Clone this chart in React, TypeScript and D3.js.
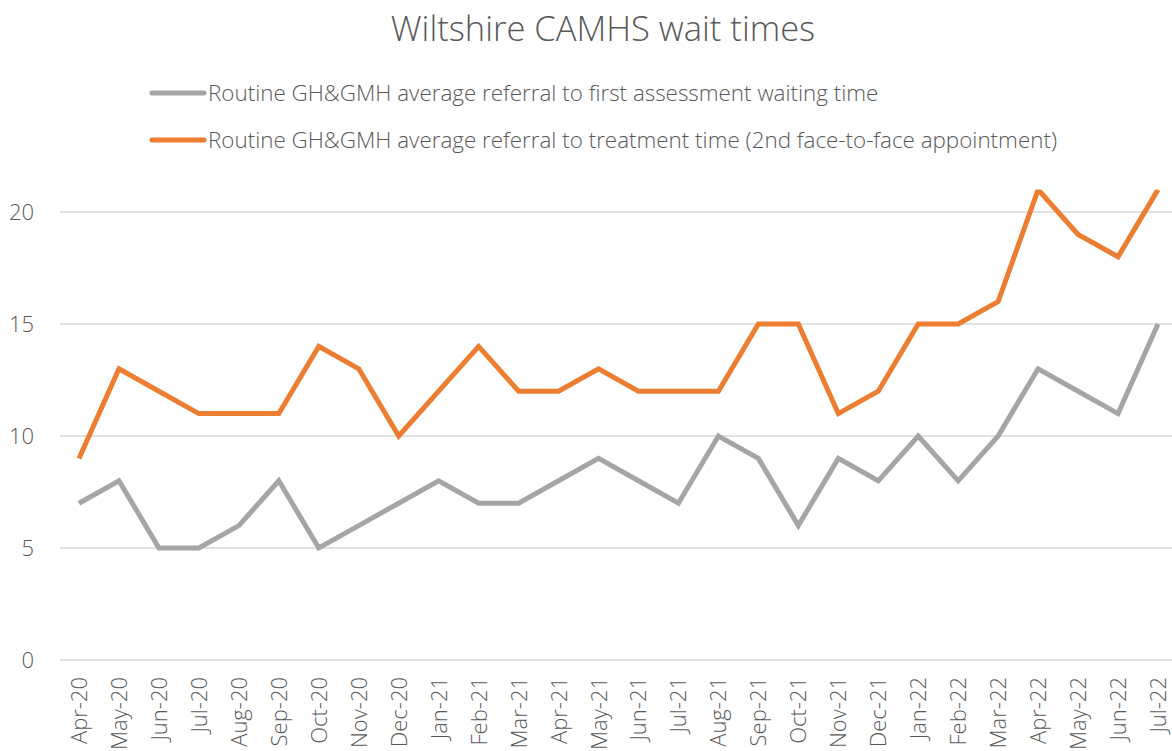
import React from "react";
import * as d3 from "d3";

const months = ["Apr-20","May-20","Jun-20","Jul-20","Aug-20","Sep-20","Oct-20","Nov-20","Dec-20","Jan-21","Feb-21","Mar-21","Apr-21","May-21","Jun-21","Jul-21","Aug-21","Sep-21","Oct-21","Nov-21","Dec-21","Jan-22","Feb-22","Mar-22","Apr-22","May-22","Jun-22","Jul-22"];
const assessment = [7,8,5,5,6,8,5,6,7,8,7,7,8,9,8,7,10,9,6,9,8,10,8,10,13,12,11,15];
const treatment = [9,13,12,11,11,11,14,13,10,12,14,12,12,13,12,12,12,15,15,11,12,15,15,16,21,19,18,21];
const yTicks = [0,5,10,15,20];
const seriesNames = [
  "Routine GH&GMH average referral to first assessment waiting time",
  "Routine GH&GMH average referral to treatment time (2nd face-to-face appointment)",
];
const colors = ["#A5A5A5", "#ED7D31"];

const W = 1172, H = 751;
const FONT = "'Open Sans', sans-serif";

export default function App() {
  const x = d3.scalePoint<string>().domain(months).range([79, 1158]);
  const y = d3.scaleLinear().domain([0, 20]).range([660, 212]);
  const line = d3.line<number>().x((_, i) => x(months[i])!).y(d => y(d));
  const series = [assessment, treatment];
  return (
    <svg width={W} height={H} style={{ position: "absolute", left: 0, top: 0 }} fontFamily={FONT}>
      <defs>
        <clipPath id="plot"><rect x={0} y={y(21)} width={W} height={H} /></clipPath>
      </defs>
      <text x={603} y={41} textAnchor="middle" fontSize={34.5} fontWeight={300} fill="#595959">Wiltshire CAMHS wait times</text>
      {seriesNames.map((n, i) => (
        <g key={n}>
          <line x1={152} x2={204} y1={93 + i * 47} y2={93 + i * 47} stroke={colors[i]} strokeWidth={5} strokeLinecap="round" />
          <text x={208} y={101 + i * 47} fontSize={22.4} fontWeight={300} fill="#595959">{n}</text>
        </g>
      ))}
      {yTicks.map(t => (
        <g key={t}>
          <line x1={60} x2={W} y1={y(t)} y2={y(t)} stroke="#D9D9D9" strokeWidth={1.5} />
          <text x={34} y={y(t) + 8} textAnchor="end" fontSize={22} fontWeight={300} fill="#595959">{t}</text>
        </g>
      ))}
      {months.map(m => (
        <text key={m} transform={`translate(${x(m)! + 8},677) rotate(-90)`} textAnchor="end" fontSize={22} fontWeight={300} fill="#595959">{m}</text>
      ))}
      <g clipPath="url(#plot)">
        {series.map((s, i) => (
          <path key={i} d={line(s)!} fill="none" stroke={colors[i]} strokeWidth={5} strokeLinejoin="miter" />
        ))}
      </g>
    </svg>
  );
}
